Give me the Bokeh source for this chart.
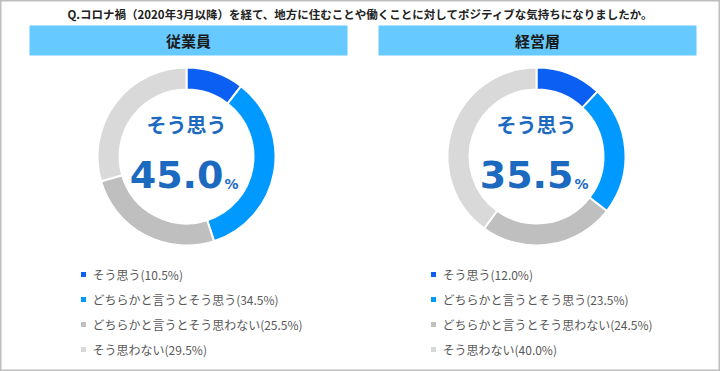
import math
from bokeh.plotting import figure
from bokeh.models import Range1d
from bokeh.core.properties import value
from bokeh.embed import file_html
from bokeh.resources import INLINE

# ---- data ----
title = "Q.コロナ禍（2020年3月以降）を経て、地方に住むことや働くことに対してポジティブな気持ちになりましたか。"
groups = ["従業員", "経営層"]
categories = ["そう思う", "どちらかと言うとそう思う", "どちらかと言うとそう思わない", "そう思わない"]
employees = [10.5, 34.5, 25.5, 29.5]
managers = [12.0, 23.5, 24.5, 40.0]
center_label = "そう思う"
colors = ["#0B5FF2", "#0099FF", "#BFBFBF", "#D9D9D9"]
series = [employees, managers]

# ---- layout (reference pixel coordinates) ----
W, H = 720, 371
def Y(ry):
    return H - ry

JP = value("Noto Sans CJK JP")
NUM = value("DejaVu Sans")
BLUE_TXT = "#1B6AC0"

p = figure(width=W, height=H, output_backend="svg", toolbar_location=None,
           x_range=Range1d(0, W), y_range=Range1d(0, H), min_border=0)
p.axis.visible = False
p.grid.visible = False
p.background_fill_color = "white"
p.border_fill_color = "white"
p.outline_line_color = "#BFBFBF"
p.outline_line_width = 2

# title
p.text(x=[360], y=[Y(13)], text=[title], text_font=JP, text_font_style="bold",
       text_font_size="11.5px", text_color="#222222", text_align="center", text_baseline="middle")

panel_cx = [188, 537]
donut_cx = [186, 536]
donut_cy = 156
r_out, r_in = 89, 67
legend_x = [83, 433]
legend_y = [274, 299, 324, 349]

for gi, (g, vals) in enumerate(zip(groups, series)):
    # header box
    p.quad(left=[panel_cx[gi] - 159], right=[panel_cx[gi] + 159], top=[Y(25)], bottom=[Y(55)],
           fill_color="#66C9FF", line_color=None)
    p.text(x=[panel_cx[gi]], y=[Y(40)], text=[g], text_font=JP, text_font_style="bold",
           text_font_size="15px", text_color="#1a1a1a", text_align="center", text_baseline="middle")

    total = sum(vals)
    starts, ends = [], []
    cum = 0.0
    for v in vals:
        starts.append(math.pi / 2 - 2 * math.pi * cum / total)
        cum += v
        ends.append(math.pi / 2 - 2 * math.pi * cum / total)
    p.annular_wedge(x=[donut_cx[gi]] * len(vals), y=[Y(donut_cy)] * len(vals),
                    inner_radius=r_in, outer_radius=r_out,
                    start_angle=starts, end_angle=ends, direction="clock",
                    fill_color=colors, line_color="white", line_width=2)

    # center texts
    p.text(x=[donut_cx[gi]], y=[Y(124)], text=[center_label], text_font=JP, text_font_style="bold",
           text_font_size="20px", text_color=BLUE_TXT, text_align="center", text_baseline="middle")
    pos = vals[0] + vals[1]
    p.text(x=[donut_cx[gi] + 37], y=[Y(174)], text=[f"{pos:.1f}"], text_font=NUM, text_font_style="bold",
           text_font_size="38px", text_color=BLUE_TXT, text_align="right", text_baseline="middle")
    p.text(x=[donut_cx[gi] + 38], y=[Y(183)], text=["%"], text_font=NUM, text_font_style="bold",
           text_font_size="14px", text_color=BLUE_TXT, text_align="left", text_baseline="middle")

    # legend
    lys = [Y(v) for v in legend_y]
    p.rect(x=[legend_x[gi]] * 4, y=lys, width=5, height=5, fill_color=colors, line_color=None)
    labels = [f"{c}({v:.1f}%)" for c, v in zip(categories, vals)]
    p.text(x=[legend_x[gi] + 9] * 4, y=lys, text=labels, text_font=JP,
           text_font_size="12px", text_color="#595959", text_align="left", text_baseline="middle")

open("out.html", "w").write(file_html(p, INLINE))
